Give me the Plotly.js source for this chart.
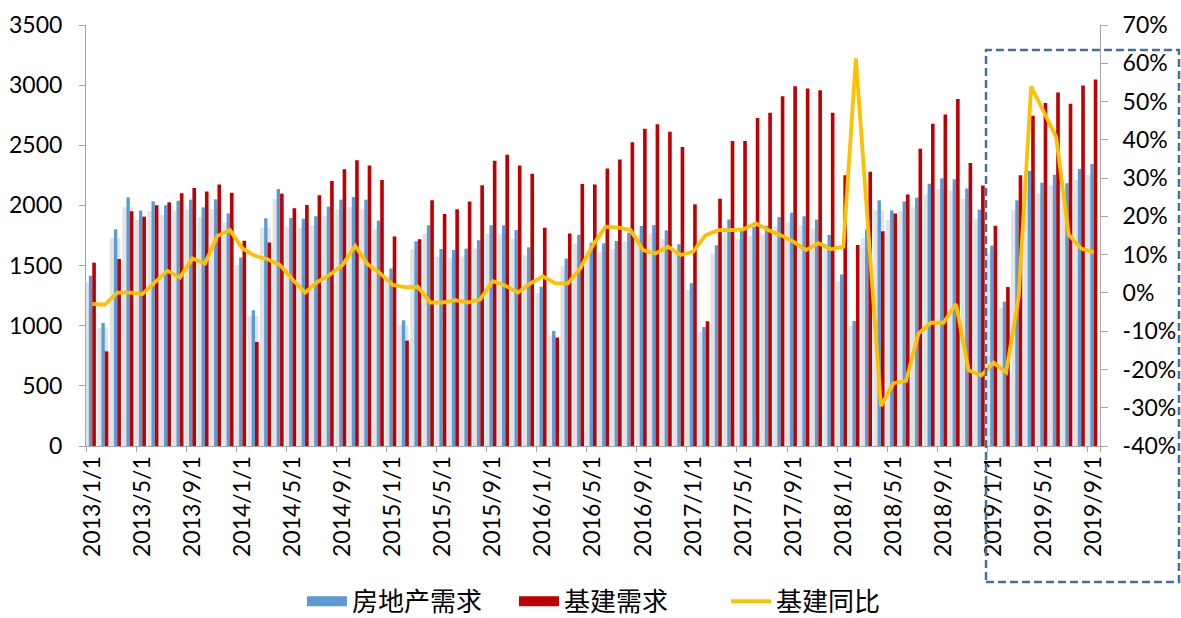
<!DOCTYPE html>
<html>
<head>
<meta charset="utf-8">
<script src="https://cdn.plot.ly/plotly-3.0.1.min.js"></script>
<style>
  html, body { margin: 0; padding: 0; background: #fff; }
  #chart { width: 1181px; height: 618px; }
</style>
</head>
<body>
<div id="chart"></div>
<script>
// ---- data (monthly, 2013/1 .. 2019/9) ----
const startYear = 2013;
const monthCount = 81;
const tickLabels = ['2013/1/1','2013/5/1','2013/9/1','2014/1/1','2014/5/1','2014/9/1',
  '2015/1/1','2015/5/1','2015/9/1','2016/1/1','2016/5/1','2016/9/1','2017/1/1','2017/5/1',
  '2017/9/1','2018/1/1','2018/5/1','2018/9/1','2019/1/1','2019/5/1','2019/9/1'];
const yoyTickVals = [-0.4,-0.3,-0.2,-0.1,0,0.1,0.2,0.3,0.4,0.5,0.6,0.7];
const yoyTickText = ['-40%','-30%','-20%','-10%','0%','10%','20%','30%','40%','50%','60%','70%'];

const realEstate = [1416,1023,1801,2067,1957,2034,2001,2040,2048,1984,2051,1934,
  1566,1128,1893,2137,1896,1890,1910,1990,2048,2070,2048,1874,
  1475,1045,1702,1835,1638,1630,1641,1710,1835,1835,1795,1652,
  1325,956,1558,1754,1690,1685,1704,1774,1829,1837,1793,1677,
  1352,989,1668,1884,1793,1821,1832,1904,1940,1909,1884,1754,
  1425,1039,1800,2042,1959,2034,2065,2181,2225,2217,2140,1965,
  1666,1200,2042,2286,2189,2256,2184,2303,2344];

const infra = [1524,787,1555,1951,1907,2001,2026,2101,2145,2115,2173,2106,
  1707,865,1691,2098,1976,2004,2084,2203,2301,2375,2331,2211,
  1741,876,1718,2043,1929,1968,2032,2167,2372,2422,2331,2263,
  1814,901,1766,2178,2175,2306,2381,2525,2638,2674,2613,2486,
  2009,1037,2056,2535,2535,2727,2771,2907,2990,2973,2957,2771,
  2250,1670,2280,1786,1932,2090,2472,2680,2755,2885,2353,2165,
  1832,1322,2250,2746,2851,2938,2846,2996,3046];

const infraYoY = [-2.9,-3.1,0.1,0.1,-0.3,2.9,5.8,4.0,9.0,7.7,14.9,16.4,
  11.6,9.7,8.8,7.3,3.5,0.1,2.9,4.8,7.3,12.3,7.5,5.1,
  2.1,1.5,1.6,-2.5,-2.5,-1.9,-2.5,-1.7,3.1,1.9,0.1,2.5,
  4.3,2.5,2.5,6.5,12.5,17.3,17.1,16.4,11.2,10.3,12.1,9.9,
  10.8,15.1,16.4,16.4,16.6,18.2,16.4,15.1,13.4,11.2,13.0,11.4,
  12.1,61.3,16.0,-29.6,-23.6,-23.0,-10.6,-7.8,-7.8,-2.9,-20.2,-21.6,
  -18.2,-20.8,-1.0,53.9,47.4,40.7,15.2,11.6,10.6];

// category labels for each month
const months = [];
for (let i = 0; i < monthCount; i++) {
  const y = startYear + Math.floor(i / 12);
  const m = (i % 12) + 1;
  months.push(y + '/' + m + '/1');
}

const tickFont = { family: 'Lato, "Noto Sans CJK SC", sans-serif', size: 23, color: '#000' };
const axisGray = '#a6a6a6';
const blue = '#5B9BD5', red = '#C00000', gold = '#FFC000';

const traces = [
  // soft shadow behind the bars (Excel-style outer shadow)
  { type: 'bar', x: months, y: realEstate.map(v => v * 0.96), width: 0.86, offset: -0.6,
    marker: { color: 'rgba(0,0,0,0.11)', line: { width: 0 } },
    showlegend: false, hoverinfo: 'skip', yaxis: 'y' },
  { type: 'bar', name: '房地产需求', x: months, y: realEstate, width: 0.27, offset: -0.27,
    marker: { color: blue, line: { width: 0 } }, yaxis: 'y',
    legendgroup: 'a', showlegend: false },
  { type: 'bar', name: '基建需求', x: months, y: infra, width: 0.29, offset: 0,
    marker: { color: red, line: { width: 0 } }, yaxis: 'y',
    legendgroup: 'b', showlegend: false },
  { type: 'scatter', mode: 'lines', name: '基建同比', x: months,
    y: infraYoY.map(v => v / 100), yaxis: 'y2',
    line: { color: gold, width: 3.8 }, showlegend: false, legendgroup: 'c' },
  // legend keys
  { type: 'scatter', mode: 'lines', name: '房地产需求', x: [null], y: [null],
    line: { color: blue, width: 15 }, legendgroup: 'a', hoverinfo: 'skip' },
  { type: 'scatter', mode: 'lines', name: '基建需求', x: [null], y: [null],
    line: { color: red, width: 15 }, legendgroup: 'b', hoverinfo: 'skip' },
  { type: 'scatter', mode: 'lines', name: '基建同比', x: [null], y: [null],
    line: { color: gold, width: 3.8 }, legendgroup: 'c', hoverinfo: 'skip' }
];

const layout = {
  width: 1181, height: 618,
  margin: { l: 86, r: 81, t: 25, b: 172, autoexpand: false },
  paper_bgcolor: '#fff', plot_bgcolor: 'rgba(0,0,0,0)',
  barmode: 'overlay',
  showlegend: true,
  legend: {
    orientation: 'h', x: 0.213, xanchor: 'left',
    yref: 'container', y: 0.027, yanchor: 'middle',
    font: { family: '"Noto Sans CJK SC", sans-serif', size: 26, color: '#000' },
    traceorder: 'normal', itemwidth: 40, entrywidth: 157,
    bgcolor: 'rgba(0,0,0,0)'
  },
  xaxis: {
    type: 'category', categoryorder: 'array', categoryarray: months,
    range: [-0.5, monthCount - 0.5],
    tickmode: 'array', tickvals: tickLabels, ticktext: tickLabels,
    tickson: 'boundaries', ticks: 'outside', ticklen: 5, tickcolor: axisGray,
    tickangle: -90, tickfont: tickFont, automargin: false,
    showline: true, linecolor: axisGray, linewidth: 1,
    showgrid: false, zeroline: false, fixedrange: true
  },
  yaxis: {
    range: [0, 3500], dtick: 500, tick0: 0,
    ticks: 'outside', ticklen: 6, tickcolor: axisGray,
    tickfont: tickFont, ticklabelstandoff: 12, automargin: false,
    showline: true, linecolor: axisGray, linewidth: 1,
    showgrid: false, zeroline: false
  },
  yaxis2: {
    overlaying: 'y', side: 'right',
    range: [-0.4, 0.7], tickmode: 'array', tickvals: yoyTickVals, ticktext: yoyTickText,
    ticks: 'outside', ticklen: 7, tickcolor: axisGray,
    tickfont: tickFont, ticklabelstandoff: 10, automargin: false,
    showline: true, linecolor: axisGray, linewidth: 1,
    showgrid: false, zeroline: false
  },
  shapes: [{
    type: 'rect', xref: 'paper', yref: 'paper',
    x0: 0.8876, x1: 1.0779, y0: -0.323, y1: 0.9406,
    line: { color: '#41719C', width: 2.5, dash: '8px,4px' },
    fillcolor: 'rgba(0,0,0,0)', layer: 'above'
  }]
};

Plotly.newPlot('chart', traces, layout, { displayModeBar: false, staticPlot: true });
</script>
</body>
</html>
